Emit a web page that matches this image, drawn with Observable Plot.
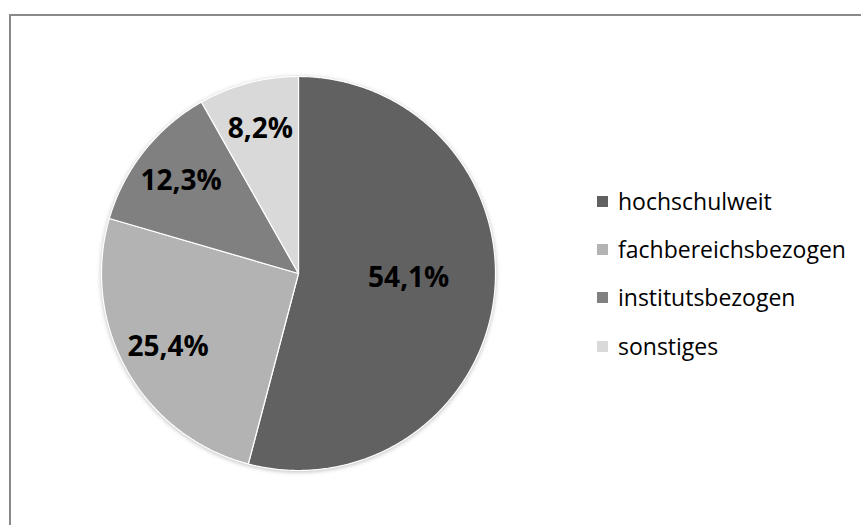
<!DOCTYPE html>
<html>
<head>
<meta charset="utf-8">
<script src="https://cdn.jsdelivr.net/npm/d3@7"></script>
<script src="https://cdn.jsdelivr.net/npm/@observablehq/plot@0.6"></script>
<style>
  html, body { margin: 0; padding: 0; background: #fff; }
  #wrap { position: relative; width: 861px; height: 525px; overflow: hidden; font-family: "Open Sans", sans-serif; }
  #frame { position: absolute; left: 9px; top: 14px; width: 900px; height: 600px; border-left: 2px solid #898989; border-top: 2px solid #898989; }
  #chart { position: absolute; left: 0; top: 0; }
  #legend { position: absolute; left: 597px; top: 177px; }
  .row { display: flex; align-items: center; height: 48.3px; }
  .sw { width: 11px; height: 11px; margin-right: 10px; }
  .lab { font-size: 23px; color: #000; line-height: 1; }
</style>
</head>
<body>
<div id="wrap">
  <div id="frame"></div>
  <div id="chart"></div>
  <div id="legend"></div>
</div>
<script>
const categories = ["hochschulweit", "fachbereichsbezogen", "institutsbezogen", "sonstiges"];
const values = [54.1, 25.4, 12.3, 8.2];
const labels = ["54,1%", "25,4%", "12,3%", "8,2%"];
const colors = ["#616161", "#b3b3b3", "#808080", "#d9d9d9"];

const W = 861, H = 525;
const cx = 298, cy = 273, R = 197;

const total = d3.sum(values);
let acc = 0;
const slices = values.map((v, i) => {
  const a0 = acc / total * 2 * Math.PI;
  acc += v;
  const a1 = acc / total * 2 * Math.PI;
  return {cat: categories[i], value: v, label: labels[i], a0, a1};
});

const poly = [];
slices.forEach(s => {
  poly.push({cat: s.cat, x: 0, y: 0});
  const n = Math.max(2, Math.ceil((s.a1 - s.a0) / (Math.PI / 360)));
  for (let k = 0; k <= n; k++) {
    const a = s.a0 + (s.a1 - s.a0) * k / n;
    poly.push({cat: s.cat, x: Math.sin(a), y: Math.cos(a)});
  }
});

const labelPts = slices.map(s => {
  const big = s.value > 50;
  const m = big ? Math.PI / 2 + 0.04 : (s.a0 + s.a1) / 2;
  const r = big ? 0.56 : 0.76;
  return {label: s.label, x: r * Math.sin(m), y: r * Math.cos(m)};
});

const plot = Plot.plot({
  width: W,
  height: H,
  margin: 0,
  x: {domain: [-cx / R, (W - cx) / R], axis: null},
  y: {domain: [-(H - cy) / R, cy / R], axis: null},
  color: {domain: categories, range: colors},
  marks: [
    Plot.line(poly, {x: "x", y: "y", z: "cat", fill: "cat", stroke: "#ffffff", strokeWidth: 1.2, curve: "linear-closed"}),
    Plot.text(labelPts, {x: "x", y: "y", text: "label", fontSize: 28, fontWeight: "bold", fill: "#000", fontFamily: "Open Sans"})
  ],
  style: {background: "transparent", fontFamily: "Open Sans"}
});
const g = plot.querySelector('g[aria-label="line"]');
if (g) g.style.filter = "drop-shadow(0px 1px 2px rgba(0,0,0,0.25))";
document.getElementById("chart").appendChild(plot);

const legend = document.getElementById("legend");
categories.forEach((c, i) => {
  const row = document.createElement("div");
  row.className = "row";
  const sw = document.createElement("div");
  sw.className = "sw";
  sw.style.background = colors[i];
  const lab = document.createElement("div");
  lab.className = "lab";
  lab.textContent = c;
  row.appendChild(sw);
  row.appendChild(lab);
  legend.appendChild(row);
});
</script>
</body>
</html>
